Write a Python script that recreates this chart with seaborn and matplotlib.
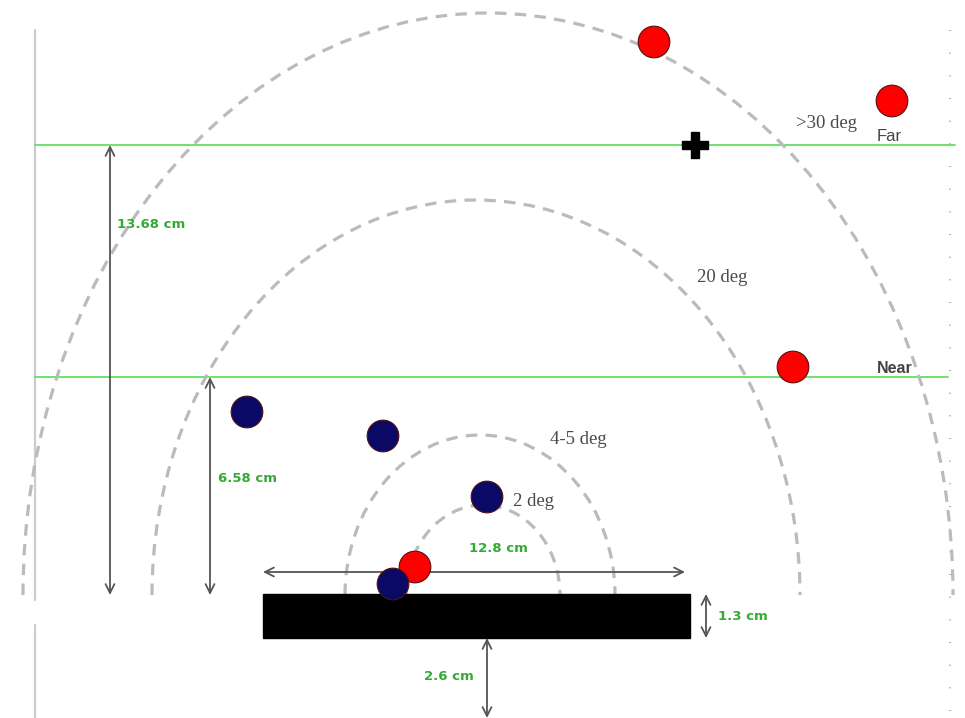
import matplotlib

matplotlib.use("Agg")
import matplotlib.pyplot as plt
import pandas as pd
import seaborn as sns
from matplotlib.patches import Arc, Rectangle

# canvas units are pixels of the original figure (y grows downward)
red_x = [654, 892, 793, 415]
red_y = [42, 101, 367, 567]
blue_x = [247, 383, 487, 393]
blue_y = [412, 436, 497, 584]
cross_xy = (695, 145)

# dashed visual-angle arcs: centre x, radius x, radius y, label and label position
arc_cx = [483, 480, 476, 488]
arc_rx = [77, 135, 324, 465]
arc_ry = [90, 160, 395, 582]
arc_labels = ["2 deg", "4-5 deg", "20 deg", ">30 deg"]
arc_label_x = [513, 550, 697, 796]
arc_label_y = [502, 440, 277, 123]
arc_base_y = 595

zone_labels = ["Far", "Near"]
zone_y = [145, 377]
zone_label_x = [877, 877]

dim_labels = ["13.68 cm", "6.58 cm", "12.8 cm", "1.3 cm", "2.6 cm"]

df_dots = pd.DataFrame(
    {
        "x": red_x + blue_x,
        "y": red_y + blue_y,
        "kind": ["red"] * len(red_x) + ["blue"] * len(blue_x),
    }
)

sns.set_theme(style="white")
plt.rcParams["font.family"] = ["DejaVu Sans"]

fig = plt.figure(figsize=(9.65, 7.18), dpi=100)
ax = fig.add_axes([0, 0, 1, 1])

# frame-ish lines
ax.plot([35, 35], [30, 600], color="#cccccc", lw=1.6, zorder=1)
ax.plot([35, 35], [625, 718], color="#cccccc", lw=1.6, zorder=1)
ax.plot([950, 950], [30, 718], color="#999999", lw=1.2,
        linestyle=(0, (0.6, 13)), zorder=1)

# zone lines
for y, x_end in zip(zone_y, [955, 948]):
    ax.plot([35, x_end], [y, y], color="#55dd55", lw=1.2, zorder=2)
ax.text(zone_label_x[0], zone_y[0] - 1, zone_labels[0], fontsize=12,
        color="#444444", family=["Liberation Sans"], ha="left", va="bottom")
ax.text(zone_label_x[1], zone_y[1] - 1, zone_labels[1], fontsize=11.5,
        color="#444444", fontweight="bold", family=["Liberation Sans"],
        ha="left", va="bottom")

# arcs
for cx, rx, ry in zip(arc_cx, arc_rx, arc_ry):
    ax.add_patch(Arc((cx, arc_base_y), 2 * rx, 2 * ry, theta1=180, theta2=360,
                     color="#bbbbbb", lw=2.3, linestyle=(0, (3.6, 2.6)), zorder=2))
for lab, x, y in zip(arc_labels, arc_label_x, arc_label_y):
    ax.text(x, y, lab, fontsize=13.5, color="#4a4a4a", family=["Liberation Serif"],
            ha="left", va="center")

# device
ax.add_patch(Rectangle((263, 594), 427, 44, color="black", zorder=3))

# dimension arrows
arrow_kw = dict(arrowstyle="<->", color="#555555", lw=1.3, mutation_scale=16,
                shrinkA=0, shrinkB=0)
dims = [
    ((110, 145), (110, 595)),
    ((210, 377), (210, 595)),
    ((263, 572), (685, 572)),
    ((706, 594), (706, 638)),
    ((487, 638), (487, 718)),
]
for a, b in dims:
    ax.annotate("", xy=a, xytext=b, arrowprops=arrow_kw, zorder=4)
dim_pos = [(117, 224, "left"), (218, 478, "left"), (498, 549, "center"),
           (718, 616, "left"), (474, 676, "right")]
for lab, (x, y, ha) in zip(dim_labels, dim_pos):
    ax.text(x, y, lab, fontsize=9.5, color="#33aa33", fontweight="bold",
            ha=ha, va="center")

# participants / targets
sns.scatterplot(
    data=df_dots, x="x", y="y", hue="kind",
    palette={"red": "#ff0000", "blue": "#0a0a66"},
    s=520, edgecolor="#551111", linewidth=0.8, legend=False, ax=ax, zorder=5,
)
ax.plot(*cross_xy, marker="P", markersize=19, color="black", zorder=6)

ax.set_xlim(0, 965)
ax.set_ylim(718, 0)
ax.axis("off")

fig.savefig("out.png", dpi=100)
